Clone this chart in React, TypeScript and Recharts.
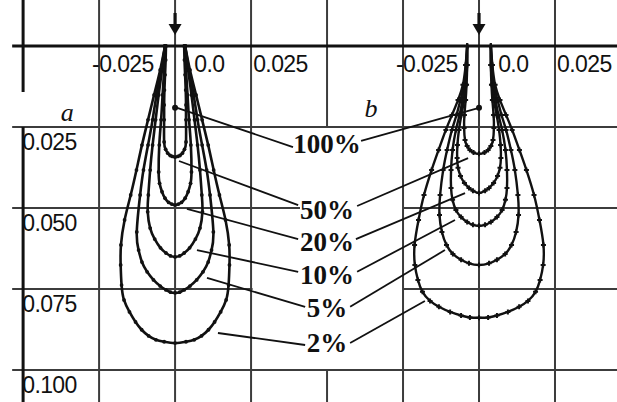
import { ScatterChart, Scatter, XAxis, YAxis, ReferenceLine } from 'recharts';

// Horizontal position in m (panel b is drawn shifted by +0.1), depth in m downward
const X_DOMAIN = [-0.0576, 0.1454];
const Y_DOMAIN = [-0.0142, 0.1099];

const PANEL_CENTERS = [0, 0.1];
const PANEL_NAMES = ['a', 'b'];
const LEVELS = ['100%', '50%', '20%', '10%', '5%', '2%'];

const X_TICKS = [-0.025, 0, 0.025];
const X_TICK_LABELS = ['-0.025', '0.0', '0.025'];
const Y_TICKS = [0.025, 0.05, 0.075, 0.1];
const Y_TICK_LABELS = ['0.025', '0.050', '0.075', '0.100'];

// Isoline profiles, one side only: [depth, half width]; 100% is the single peak point
const A100 = [[0.0191, 0]];
const A50 = [[0, 0.003], [0.0043, 0.0031], [0.0089, 0.0033], [0.0136, 0.0035], [0.0182, 0.0036], [0.0228, 0.0036], [0.0296, 0.0036], [0.0319, 0.0031], [0.0331, 0.0024], [0.0338, 0.0016], [0.0341, 0.0009], [0.0343, 0]];
const A20 = [[0, 0.0033], [0.0074, 0.0036], [0.0151, 0.0041], [0.0228, 0.0046], [0.0306, 0.0052], [0.0389, 0.0054], [0.0424, 0.0051], [0.045, 0.0043], [0.047, 0.0033], [0.0483, 0.0021], [0.0488, 0.0011], [0.0491, 0]];
const A10 = [[0, 0.0033], [0.0074, 0.0043], [0.0151, 0.0054], [0.0228, 0.0064], [0.0306, 0.0074], [0.0383, 0.0082], [0.046, 0.0088], [0.0512, 0.009], [0.0562, 0.0082], [0.0596, 0.0067], [0.0623, 0.0048], [0.0639, 0.003], [0.0648, 0.0015], [0.0651, 0]];
const A5 = [[0, 0.0033], [0.0074, 0.0046], [0.0151, 0.0061], [0.0228, 0.0074], [0.0306, 0.0089], [0.0383, 0.0104], [0.046, 0.0115], [0.0574, 0.0126], [0.063, 0.012], [0.0667, 0.0109], [0.0697, 0.0092], [0.0722, 0.0071], [0.0741, 0.0049], [0.0753, 0.003], [0.076, 0.0015], [0.0762, 0]];
const A2 = [[0, 0.0033], [0.0074, 0.0049], [0.0151, 0.0069], [0.0228, 0.0089], [0.0306, 0.0109], [0.0383, 0.0127], [0.046, 0.0146], [0.0537, 0.0166], [0.0614, 0.0178], [0.0676, 0.0179], [0.0738, 0.0176], [0.0784, 0.0168], [0.0821, 0.015], [0.0852, 0.013], [0.0876, 0.011], [0.0895, 0.0087], [0.0907, 0.0063], [0.0913, 0.0036], [0.0917, 0]];

const B100 = [[0.0191, 0]];
const B50 = [[0, 0.0039], [0.0059, 0.0039], [0.012, 0.0041], [0.0167, 0.0044], [0.0213, 0.0048], [0.0253, 0.0049], [0.029, 0.0046], [0.0309, 0.0039], [0.0321, 0.003], [0.0329, 0.0018], [0.0333, 0]];
const B20 = [[0, 0.0039], [0.0059, 0.0039], [0.012, 0.0043], [0.0167, 0.0049], [0.0213, 0.0058], [0.0259, 0.0066], [0.0306, 0.0071], [0.0346, 0.0072], [0.0376, 0.0069], [0.0401, 0.0061], [0.0423, 0.0048], [0.0438, 0.0033], [0.0447, 0.002], [0.0454, 0]];
const B10 = [[0, 0.0039], [0.0059, 0.0041], [0.012, 0.0046], [0.0167, 0.0054], [0.0213, 0.0064], [0.0259, 0.0076], [0.0321, 0.0087], [0.0383, 0.0092], [0.0438, 0.0092], [0.0475, 0.0087], [0.0506, 0.0076], [0.0528, 0.0059], [0.0543, 0.0039], [0.0552, 0.002], [0.0555, 0]];
const B5 = [[0, 0.0039], [0.0059, 0.0043], [0.012, 0.0049], [0.0167, 0.0061], [0.0213, 0.0074], [0.0259, 0.0089], [0.0321, 0.0105], [0.0383, 0.0118], [0.046, 0.0128], [0.0522, 0.013], [0.0574, 0.0122], [0.0614, 0.0107], [0.0642, 0.0086], [0.066, 0.0059], [0.0671, 0.0033], [0.0676, 0]];
const B2 = [[0, 0.0039], [0.0059, 0.0044], [0.012, 0.0053], [0.0167, 0.0069], [0.0213, 0.0089], [0.0259, 0.0109], [0.0321, 0.0133], [0.0383, 0.0156], [0.046, 0.0181], [0.0537, 0.0199], [0.0614, 0.0212], [0.0676, 0.0211], [0.0722, 0.0201], [0.0759, 0.0186], [0.0787, 0.0161], [0.0805, 0.0132], [0.0821, 0.0095], [0.0832, 0.0059], [0.0838, 0.003], [0.0839, 0]];

const PROFILES_A = [A50, A20, A10, A5, A2];
const PROFILES_B = [B50, B20, B10, B5, B2];

// Where the level names sit, and their leader lines (x1, y1 at the name -> x2, y2 at the isoline)
const LABEL_X = 0.05;
const LABEL_DEPTHS = [0.0302, 0.0506, 0.0605, 0.0707, 0.0809, 0.0917];
const LEADERS_A = [
  [0.0388, 0.0312, 0.0007, 0.0191],
  [0.0405, 0.0491, 0.0013, 0.0355],
  [0.0405, 0.0596, 0.0039, 0.0503],
  [0.0405, 0.0697, 0.0072, 0.063],
  [0.0428, 0.0805, 0.0105, 0.0716],
  [0.0428, 0.0923, 0.0141, 0.0886],
];
const LEADERS_B = [
  [0.0612, 0.0293, 0.1, 0.0191],
  [0.0599, 0.0494, 0.0964, 0.0346],
  [0.0595, 0.0596, 0.0954, 0.0454],
  [0.0599, 0.0697, 0.0921, 0.0537],
  [0.0576, 0.0805, 0.0888, 0.063],
  [0.0576, 0.0917, 0.0822, 0.0787],
];

// grid frame
const LEFT = -0.0536;
const RIGHT = X_DOMAIN[1];
const TOP = Y_DOMAIN[0];
const BOTTOM = Y_DOMAIN[1];
const GRID = [
  [-0.025, TOP, -0.025, BOTTOM],
  [0, TOP, 0, BOTTOM],
  [0.025, TOP, 0.025, BOTTOM],
  [0.05, TOP, 0.05, 0.025],
  [0.05, 0.1, 0.05, BOTTOM],
  [0.075, TOP, 0.075, BOTTOM],
  [0.1, TOP, 0.1, BOTTOM],
  [0.125, TOP, 0.125, BOTTOM],
  [LEFT, 0.025, RIGHT, 0.025],
  [LEFT, 0.05, 0.0411, 0.05],
  [0.075, 0.05, RIGHT, 0.05],
  [LEFT, 0.075, 0.0255, 0.075],
  [0.075, 0.075, RIGHT, 0.075],
  [LEFT, 0.1, RIGHT, 0.1],
];
const AXES = [
  [-0.05, TOP, -0.05, 0.0142],
  [-0.05, 0.025, -0.05, BOTTOM],
  [LEFT, 0, RIGHT, 0],
];

// label nudges from their grid line
const X_TICK_NUDGE = [-0.0023, 0.0063, 0.0007];
const X_TICK_BASE = 0.008;
const Y_TICK_X = -0.0503;
const Y_TICK_NUDGE = 0.0071;
const PANEL_LETTER_POS = [[-0.0355, 0.0204], [0.0645, 0.0194]];
const ARROW_TIP = -0.0034;

function outline(profile: number[][], cx: number) {
  const left = profile.map(([d, h]) => ({ x: cx - h, y: d }));
  const right = profile
    .slice(0, -1)
    .reverse()
    .map(([d, h]) => ({ x: cx + h, y: d }));
  return [...left, ...right];
}

const DotA = ({ cx, cy }: any) => <circle cx={cx} cy={cy} r={1.9} fill="#111" />;
const DotB = ({ cx, cy }: any) => (
  <path d={`M${cx - 2.5},${cy}h5M${cx},${cy - 2.5}v5`} stroke="#111" strokeWidth={2} />
);
const PeakDot = ({ cx, cy }: any) => <circle cx={cx} cy={cy} r={3} fill="#111" />;

const Arrow = ({ cx, cy }: any) => (
  <g>
    <rect x={cx - 1.6} y={cy - 22} width={3.2} height={12} fill="#111" />
    <path d={`M${cx - 6.5},${cy - 11}L${cx + 6.5},${cy - 11}L${cx},${cy}Z`} fill="#111" />
  </g>
);

const TickText = ({ cx, cy, payload }: any) => (
  <text
    x={cx}
    y={cy}
    fill="#111"
    fontSize={23}
    letterSpacing={-0.6}
    fontFamily="'Liberation Sans', Arial, sans-serif"
  >
    {payload.text}
  </text>
);

const LevelText = ({ cx, cy, payload }: any) => (
  <text
    x={cx}
    y={cy}
    fill="#111"
    fontSize={27}
    fontWeight="bold"
    textAnchor="middle"
    dominantBaseline="central"
    fontFamily="'Liberation Serif', 'Times New Roman', serif"
  >
    {payload.text}
  </text>
);

const LetterText = ({ cx, cy, payload }: any) => (
  <text
    x={cx}
    y={cy}
    fill="#111"
    fontSize={26}
    fontStyle="italic"
    textAnchor="middle"
    dominantBaseline="central"
    fontFamily="'Liberation Serif', 'Times New Roman', serif"
  >
    {payload.text}
  </text>
);

export default function App() {
  const xTickData = PANEL_CENTERS.flatMap((c) =>
    X_TICKS.map((t, i) => ({ x: c + t + X_TICK_NUDGE[i], y: X_TICK_BASE, text: X_TICK_LABELS[i] })),
  );
  const yTickData = Y_TICKS.map((t, i) => ({ x: Y_TICK_X, y: t + Y_TICK_NUDGE, text: Y_TICK_LABELS[i] }));
  const levelData = LEVELS.map((t, i) => ({ x: LABEL_X, y: LABEL_DEPTHS[i], text: t }));
  const letterData = PANEL_NAMES.map((t, i) => ({ x: PANEL_LETTER_POS[i][0], y: PANEL_LETTER_POS[i][1], text: t }));
  const arrowData = PANEL_CENTERS.map((c) => ({ x: c, y: ARROW_TIP }));
  const peakData = [...outline(A100, PANEL_CENTERS[0]), ...outline(B100, PANEL_CENTERS[1])];

  return (
    <div style={{ width: 617, height: 402, background: '#fff' }}>
      <style>{'body{margin:0}'}</style>
      <ScatterChart width={617} height={402} margin={{ top: 0, right: 0, bottom: 0, left: 0 }}>
        <XAxis type="number" dataKey="x" domain={X_DOMAIN} allowDataOverflow hide />
        <YAxis type="number" dataKey="y" domain={Y_DOMAIN} allowDataOverflow reversed hide />

        {GRID.map(([x1, y1, x2, y2], i) => (
          <ReferenceLine
            key={`g${i}`}
            segment={[{ x: x1, y: y1 }, { x: x2, y: y2 }]}
            stroke="#3c3c3c"
            strokeWidth={2}
            ifOverflow="visible"
          />
        ))}
        {AXES.map(([x1, y1, x2, y2], i) => (
          <ReferenceLine
            key={`ax${i}`}
            segment={[{ x: x1, y: y1 }, { x: x2, y: y2 }]}
            stroke="#111"
            strokeWidth={3}
            ifOverflow="visible"
          />
        ))}
        {[...LEADERS_A, ...LEADERS_B].map(([x1, y1, x2, y2], i) => (
          <ReferenceLine
            key={`l${i}`}
            segment={[{ x: x1, y: y1 }, { x: x2, y: y2 }]}
            stroke="#111"
            strokeWidth={1.8}
            ifOverflow="visible"
          />
        ))}

        {PROFILES_A.map((p, i) => (
          <Scatter
            key={`a${i}`}
            name={`a ${LEVELS[i + 1]}`}
            data={outline(p, PANEL_CENTERS[0])}
            line={{ stroke: '#111', strokeWidth: 2.6 }}
            lineJointType="natural"
            shape={DotA}
            isAnimationActive={false}
          />
        ))}
        {PROFILES_B.map((p, i) => (
          <Scatter
            key={`b${i}`}
            name={`b ${LEVELS[i + 1]}`}
            data={outline(p, PANEL_CENTERS[1])}
            line={{ stroke: '#111', strokeWidth: 2.4 }}
            lineJointType="natural"
            shape={DotB}
            isAnimationActive={false}
          />
        ))}

        <Scatter name="100%" data={peakData} shape={PeakDot} isAnimationActive={false} />
        <Scatter data={arrowData} shape={Arrow} isAnimationActive={false} />
        <Scatter data={xTickData} shape={TickText} isAnimationActive={false} />
        <Scatter data={yTickData} shape={TickText} isAnimationActive={false} />
        <Scatter data={levelData} shape={LevelText} isAnimationActive={false} />
        <Scatter data={letterData} shape={LetterText} isAnimationActive={false} />
      </ScatterChart>
    </div>
  );
}
